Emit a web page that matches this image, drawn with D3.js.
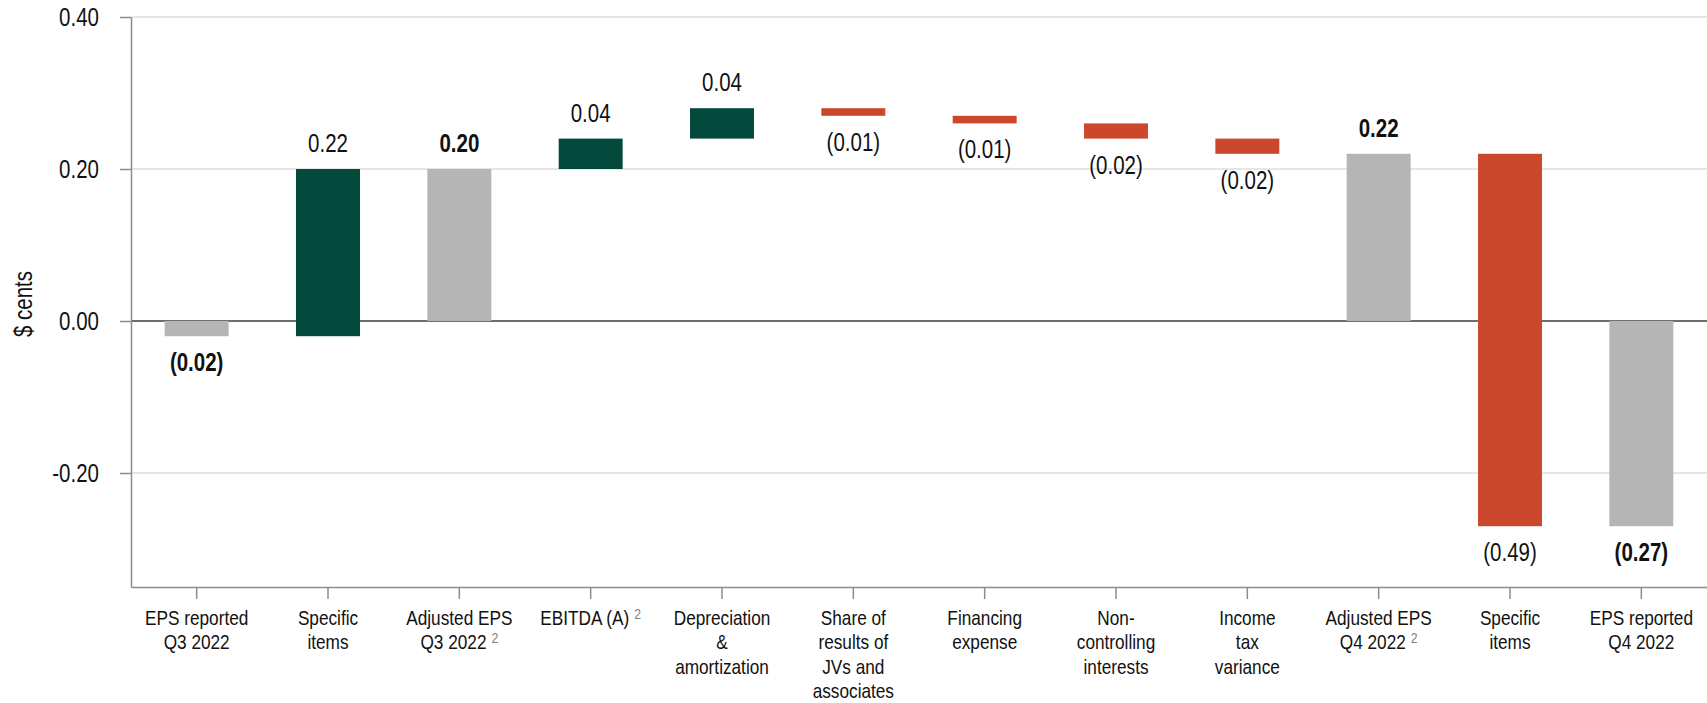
<!DOCTYPE html>
<html>
<head>
<meta charset="utf-8">
<script src="https://cdn.jsdelivr.net/npm/d3@7"></script>
<style>
  html, body { margin: 0; padding: 0; background: #fff; }
  svg { display: block; }
  .narrow { font-family: "Liberation Sans", Arial, sans-serif; }
</style>
</head>
<body>
<svg id="chart" width="1707" height="703"></svg>
<script>
// Quarter-over-quarter EPS bridge, Q3 2022 to Q4 2022
const categories = [
  ["EPS reported", "Q3 2022"],
  ["Specific", "items"],
  ["Adjusted EPS", "Q3 2022"],
  ["EBITDA (A)"],
  ["Depreciation", "&", "amortization"],
  ["Share of", "results of", "JVs and", "associates"],
  ["Financing", "expense"],
  ["Non-", "controlling", "interests"],
  ["Income", "tax", "variance"],
  ["Adjusted EPS", "Q4 2022"],
  ["Specific", "items"],
  ["EPS reported", "Q4 2022"]
];
// footnote marker "2" appended to the last line of these labels
const footnoted = [false, false, true, true, false, false, false, false, false, true, false, false];
const values = [-0.02, 0.22, 0.20, 0.04, 0.04, -0.01, -0.01, -0.02, -0.02, 0.22, -0.49, -0.27];
const kinds = ["total", "change", "total", "change", "change", "change", "change", "change", "change", "total", "change", "total"];
const yTicks = [-0.20, 0.00, 0.20, 0.40];
const yTitle = "$ cents";

const W = 1707, H = 703;
const m = { left: 131, right: 0, top: 17, bottom: 116 };
const NARROW = 0.82; // horizontal squeeze giving a condensed face
const svg = d3.select("#chart");

const x = d3.scaleBand()
  .domain(d3.range(categories.length))
  .range([m.left, W - m.right])
  .paddingInner(0.513)
  .paddingOuter(0.2565);

const y = d3.scaleLinear()
  .domain([-0.35, 0.40])
  .range([H - m.bottom, m.top]);

// running totals for the waterfall
let running = 0;
const bars = values.map((v, i) => {
  let y0, y1;
  if (kinds[i] === "total") { y0 = 0; y1 = v; running = v; }
  else { y0 = running; y1 = running + v; running = y1; }
  return { i, v, kind: kinds[i], lo: Math.min(y0, y1), hi: Math.max(y0, y1) };
});

const colors = { total: "#b5b5b5", up: "#03493c", down: "#cc482c" };
const fill = d => d.kind === "total" ? colors.total : (d.v >= 0 ? colors.up : colors.down);

// gridlines
svg.append("g")
  .selectAll("line")
  .data(yTicks.filter(t => t !== 0))
  .join("line")
  .attr("x1", m.left).attr("x2", W - m.right)
  .attr("y1", d => y(d)).attr("y2", d => y(d))
  .attr("stroke", "#e6e6e6").attr("stroke-width", 2);

// zero line
svg.append("line")
  .attr("x1", m.left).attr("x2", W - m.right)
  .attr("y1", y(0)).attr("y2", y(0))
  .attr("stroke", "#6e6e6e").attr("stroke-width", 2);

// y axis
const yAxis = svg.append("g")
  .attr("transform", `translate(${m.left},0)`)
  .call(d3.axisLeft(y).tickValues(yTicks).tickFormat(d => d.toFixed(2)).tickSize(11).tickSizeOuter(0).tickPadding(21));
yAxis.select(".domain").attr("stroke", "#8c8c8c").attr("stroke-width", 1.5);
yAxis.selectAll(".tick line").attr("stroke", "#8c8c8c").attr("stroke-width", 1.5);
yAxis.selectAll(".tick text")
  .attr("class", "narrow").attr("font-size", 25).attr("fill", "#111")
  .attr("x", -32 / NARROW)
  .attr("transform", `scale(${NARROW},1)`);

// x axis
const xAxis = svg.append("g")
  .attr("transform", `translate(0,${y.range()[0]})`)
  .call(d3.axisBottom(x).tickFormat("").tickSize(12).tickSizeOuter(0));
xAxis.select(".domain").attr("stroke", "#8c8c8c").attr("stroke-width", 1.5);
xAxis.selectAll(".tick line").attr("stroke", "#8c8c8c").attr("stroke-width", 1.5);

// category labels
const catG = svg.append("g").attr("class", "narrow").attr("font-size", 21).attr("fill", "#111").attr("text-anchor", "middle");
categories.forEach((lines, i) => {
  const t = catG.append("text")
    .attr("transform", `translate(${x(i) + x.bandwidth() / 2},${y.range()[0] + 38}) scale(${NARROW},1)`);
  lines.forEach((ln, k) => {
    t.append("tspan")
      .attr("x", 0)
      .attr("dy", k === 0 ? 0 : 24.5)
      .text(ln);
    if (footnoted[i] && k === lines.length - 1) {
      t.append("tspan").attr("dx", 6).attr("dy", -6).attr("font-size", 15).attr("fill", "#808080").text("2");
    }
  });
});

// bars
svg.append("g")
  .selectAll("rect")
  .data(bars)
  .join("rect")
  .attr("x", d => x(d.i))
  .attr("width", x.bandwidth())
  .attr("y", d => y(d.hi))
  .attr("height", d => y(d.lo) - y(d.hi))
  .attr("fill", fill);

// value labels
const fmt = v => v < 0 ? `(${Math.abs(v).toFixed(2)})` : v.toFixed(2);
svg.append("g")
  .attr("class", "narrow")
  .attr("text-anchor", "middle")
  .selectAll("text")
  .data(bars)
  .join("text")
  .attr("transform", d => {
    const tx = x(d.i) + x.bandwidth() / 2;
    const ty = d.v >= 0 ? y(d.hi) - 17 : y(d.lo) + 35;
    return `translate(${tx},${ty}) scale(${NARROW},1)`;
  })
  .attr("font-size", 25)
  .attr("font-weight", d => d.kind === "total" ? "bold" : "normal")
  .attr("fill", "#111")
  .text(d => fmt(d.v));

// y axis title
svg.append("text")
  .attr("class", "narrow")
  .attr("transform", `translate(32,304) rotate(-90) scale(${NARROW},1)`)
  .attr("text-anchor", "middle")
  .attr("font-size", 25)
  .attr("fill", "#111")
  .text(yTitle);
</script>
</body>
</html>
